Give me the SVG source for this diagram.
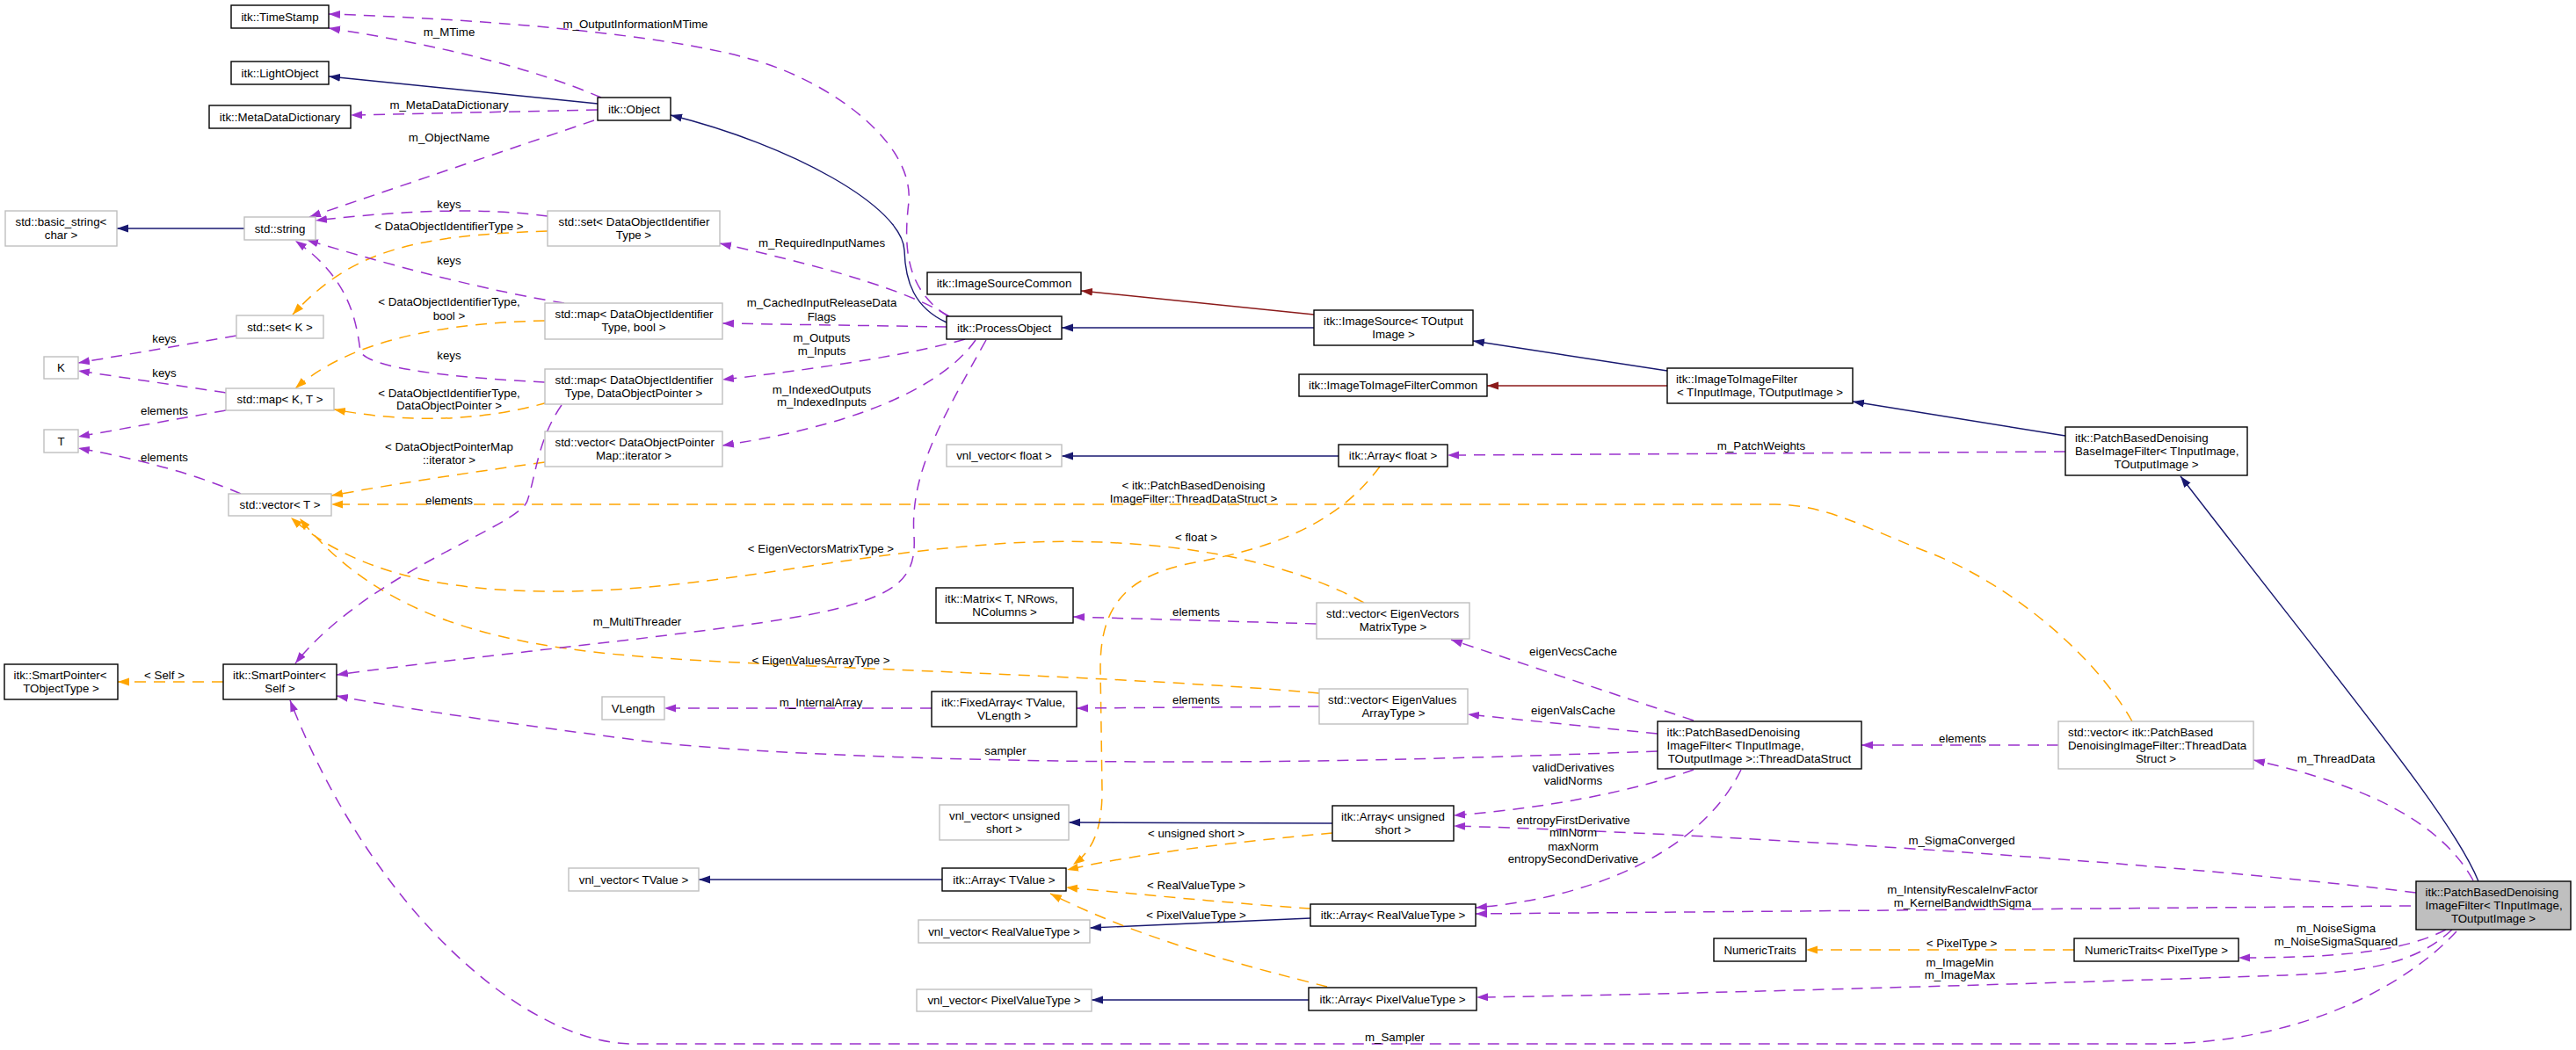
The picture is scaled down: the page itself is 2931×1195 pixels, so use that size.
<svg xmlns="http://www.w3.org/2000/svg" width="2931" height="1195" viewBox="0 0 2931 1195">
<defs>
<style>
text{font-family:"Liberation Sans",Arial,Helvetica,sans-serif;font-size:13.3px;fill:#000}
.c{text-anchor:middle}
.nb rect{fill:#fff;stroke:#000;stroke-width:1.4}
.ng rect{fill:#fff;stroke:#bfbfbf;stroke-width:1.4}
.nm rect{fill:#bfbfbf;stroke:#000;stroke-width:1.4}
#edges path{fill:none}
.p{stroke:#9a32cd;stroke-width:1.5;stroke-dasharray:13,9;marker-end:url(#ap)}
.o{stroke:#ffa500;stroke-width:1.5;stroke-dasharray:13,9;marker-end:url(#ao)}
.b{stroke:#191970;stroke-width:1.4;marker-end:url(#ab)}
.r{stroke:#8b1a1a;stroke-width:1.4;marker-end:url(#ar)}
</style>
<marker id="ap" markerWidth="14" markerHeight="10" refX="13" refY="5" orient="auto" markerUnits="userSpaceOnUse"><path d="M0,0.5 L13,5 L0,9.5 z" fill="#9a32cd" stroke="none"/></marker>
<marker id="ao" markerWidth="14" markerHeight="10" refX="13" refY="5" orient="auto" markerUnits="userSpaceOnUse"><path d="M0,0.5 L13,5 L0,9.5 z" fill="#ffa500" stroke="none"/></marker>
<marker id="ab" markerWidth="14" markerHeight="10" refX="13" refY="5" orient="auto" markerUnits="userSpaceOnUse"><path d="M0,0.5 L13,5 L0,9.5 z" fill="#191970" stroke="none"/></marker>
<marker id="ar" markerWidth="14" markerHeight="10" refX="13" refY="5" orient="auto" markerUnits="userSpaceOnUse"><path d="M0,0.5 L13,5 L0,9.5 z" fill="#8b1a1a" stroke="none"/></marker>
</defs>
<rect width="2931" height="1195" fill="#fff"/>

<g id="edges">
<path class="p" d="M684,111 Q570,62 374,32"/>
<path class="p" d="M1079,360 C1030,330 1028,280 1034,230 C1040,160 940,90 853,67 C760,40 560,22 374,16"/>
<path class="b" d="M680,118 L374,87"/>
<path class="p" d="M680,125 L399,131"/>
<path class="p" d="M676,137 Q520,190 352,247"/>
<path class="b" d="M1077,367 C1040,350 1030,320 1029,285 C1027,235 900,165 763,131"/>
<path class="b" d="M278,260 L133,260"/>
<path class="p" d="M623,246 Q520,232 359,251"/>
<path class="o" d="M623,263 C470,268 400,285 333,358"/>
<path class="p" d="M642,345 Q520,325 349,273"/>
<path class="p" d="M620,435 C520,430 420,420 410,400 C405,360 395,315 336,274"/>
<path class="o" d="M620,365 C480,368 390,395 336,442"/>
<path class="p" d="M269,382 L89,413"/>
<path class="p" d="M257,447 L89,422"/>
<path class="p" d="M257,467 L89,497"/>
<path class="p" d="M274,562 Q200,530 89,510"/>
<path class="o" d="M623,458 Q510,490 380,466"/>
<path class="o" d="M620,526 Q480,545 377,564"/>
<path class="o" d="M2426,821 C2380,740 2280,660 2190,627 C2120,600 2080,575 2020,574 L377,574"/>
<path class="o" d="M1552,686 C1450,630 1300,610 1150,618 C950,630 800,675 620,673 C500,672 400,650 331,589"/>
<path class="o" d="M1501,789 C1300,770 900,760 740,748 C560,735 430,700 341,590"/>
<path class="p" d="M1080,360 C1040,335 960,308 819,277"/>
<path class="p" d="M1077,372 L822,368"/>
<path class="p" d="M1098,386 C1050,400 950,418 822,432"/>
<path class="p" d="M1110,387 C1080,430 1000,480 822,507"/>
<path class="p" d="M1122,387 C1070,480 1035,540 1040,610 C1043,660 1020,680 919,700 C800,722 550,745 383,768"/>
<path class="p" d="M639,461 C612,500 610,540 600,570 C590,600 420,650 336,755"/>
<path class="o" d="M254,776 L134,776"/>
<path class="p" d="M1886,855 C1700,862 1500,868 1300,867 C1100,866 850,858 730,843 C600,826 480,810 383,792"/>
<path class="p" d="M2795,1060 C2740,1120 2620,1188 2450,1188 L720,1188 C600,1188 425,1040 330,797"/>
<path class="b" d="M1495,373 L1208,373"/>
<path class="r" d="M1495,358 L1230,331"/>
<path class="b" d="M1897,422 L1676,388"/>
<path class="r" d="M1897,439 L1692,439"/>
<path class="b" d="M2350,496 L2108,457"/>
<path class="p" d="M2350,514 L1647,518"/>
<path class="b" d="M1523,519 L1208,519"/>
<path class="o" d="M1570,531 C1530,585 1470,620 1360,640 C1280,655 1252,690 1252,760 L1254,900 C1254,950 1240,970 1221,984"/>
<path class="b" d="M2820,1003 C2790,930 2680,800 2481,542"/>
<path class="p" d="M2814,1002 C2780,940 2700,895 2564,865"/>
<path class="p" d="M2342,848 L2118,848"/>
<path class="p" d="M1927,820 L1651,728"/>
<path class="p" d="M1886,835 L1670,813"/>
<path class="p" d="M1498,710 L1221,702"/>
<path class="p" d="M1501,804 L1225,806"/>
<path class="p" d="M1060,806 L756,806"/>
<path class="p" d="M1927,876 C1860,900 1760,920 1654,928"/>
<path class="p" d="M1981,876 C1940,960 1830,1020 1679,1033"/>
<path class="p" d="M2749,1016 C2500,985 2000,950 1654,940"/>
<path class="p" d="M2743,1031 L1679,1040"/>
<path class="p" d="M2783,1058 C2740,1080 2680,1090 2547,1090"/>
<path class="p" d="M2790,1058 C2750,1095 2700,1106 2600,1110 C2300,1120 1900,1132 1680,1135"/>
<path class="o" d="M2360,1081 L2055,1081"/>
<path class="b" d="M1516,937 L1216,936"/>
<path class="o" d="M1516,948 C1420,957 1300,970 1214,990"/>
<path class="o" d="M1491,1034 C1400,1028 1300,1018 1213,1010"/>
<path class="b" d="M1491,1045 L1240,1056"/>
<path class="o" d="M1510,1123 C1420,1100 1300,1070 1195,1017"/>
<path class="b" d="M1489,1138 L1242,1138"/>
<path class="b" d="M1072,1001 L795,1001"/>
<g class="lbl">
<text class="c" x="723" y="32">m_OutputInformationMTime</text>
<text class="c" x="511" y="41">m_MTime</text>
<text class="c" x="511" y="124">m_MetaDataDictionary</text>
<text class="c" x="511" y="161">m_ObjectName</text>
<text class="c" x="511" y="237">keys</text>
<text class="c" x="511" y="262">&lt; DataObjectIdentifierType &gt;</text>
<text class="c" x="511" y="301">keys</text>
<text class="c" x="511" y="348">&lt; DataObjectIdentifierType,</text>
<text class="c" x="511" y="364">bool &gt;</text>
<text class="c" x="187" y="390">keys</text>
<text class="c" x="511" y="409">keys</text>
<text class="c" x="187" y="429">keys</text>
<text class="c" x="511" y="452">&lt; DataObjectIdentifierType,</text>
<text class="c" x="511" y="466">DataObjectPointer &gt;</text>
<text class="c" x="187" y="472">elements</text>
<text class="c" x="511" y="513">&lt; DataObjectPointerMap</text>
<text class="c" x="511" y="528">::iterator &gt;</text>
<text class="c" x="187" y="525">elements</text>
<text class="c" x="511" y="574">elements</text>
<text class="c" x="935" y="281">m_RequiredInputNames</text>
<text class="c" x="935" y="349">m_CachedInputReleaseData</text>
<text class="c" x="935" y="365">Flags</text>
<text class="c" x="935" y="389">m_Outputs</text>
<text class="c" x="935" y="404">m_Inputs</text>
<text class="c" x="935" y="448">m_IndexedOutputs</text>
<text class="c" x="935" y="462">m_IndexedInputs</text>
<text class="c" x="1358" y="557">&lt; itk::PatchBasedDenoising</text>
<text class="c" x="1358" y="572">ImageFilter::ThreadDataStruct &gt;</text>
<text class="c" x="1361" y="616">&lt; float &gt;</text>
<text class="c" x="934" y="629">&lt; EigenVectorsMatrixType &gt;</text>
<text class="c" x="725" y="712">m_MultiThreader</text>
<text class="c" x="1361" y="701">elements</text>
<text class="c" x="934" y="756">&lt; EigenValuesArrayType &gt;</text>
<text class="c" x="187" y="773">&lt; Self &gt;</text>
<text class="c" x="934" y="804">m_InternalArray</text>
<text class="c" x="1361" y="801">elements</text>
<text class="c" x="2004" y="512">m_PatchWeights</text>
<text class="c" x="1790" y="746">eigenVecsCache</text>
<text class="c" x="1790" y="813">eigenValsCache</text>
<text class="c" x="2233" y="845">elements</text>
<text class="c" x="2658" y="868">m_ThreadData</text>
<text class="c" x="1144" y="859">sampler</text>
<text class="c" x="1790" y="878">validDerivatives</text>
<text class="c" x="1790" y="893">validNorms</text>
<text class="c" x="1790" y="938">entropyFirstDerivative</text>
<text class="c" x="1790" y="952">minNorm</text>
<text class="c" x="1790" y="968">maxNorm</text>
<text class="c" x="1790" y="982">entropySecondDerivative</text>
<text class="c" x="1361" y="953">&lt; unsigned short &gt;</text>
<text class="c" x="1361" y="1012">&lt; RealValueType &gt;</text>
<text class="c" x="1361" y="1046">&lt; PixelValueType &gt;</text>
<text class="c" x="2232" y="961">m_SigmaConverged</text>
<text class="c" x="2233" y="1017">m_IntensityRescaleInvFactor</text>
<text class="c" x="2233" y="1032">m_KernelBandwidthSigma</text>
<text class="c" x="2232" y="1078">&lt; PixelType &gt;</text>
<text class="c" x="2658" y="1061">m_NoiseSigma</text>
<text class="c" x="2658" y="1076">m_NoiseSigmaSquared</text>
<text class="c" x="2230" y="1100">m_ImageMin</text>
<text class="c" x="2230" y="1114">m_ImageMax</text>
<text class="c" x="1587" y="1185">m_Sampler</text>
</g>
</g>

<g id="n-timestamp" class="nb"><rect x="263" y="6" width="111" height="26"/><text class="c" x="318.5" y="23.5">itk::TimeStamp</text></g>
<g id="n-lightobject" class="nb"><rect x="263" y="70" width="111" height="26"/><text class="c" x="318.5" y="87.5">itk::LightObject</text></g>
<g id="n-metadatadictionary" class="nb"><rect x="238" y="120" width="161" height="26"/><text class="c" x="318.5" y="137.5">itk::MetaDataDictionary</text></g>
<g id="n-object" class="nb"><rect x="680" y="111" width="83" height="26"/><text class="c" x="721.5" y="128.5">itk::Object</text></g>
<g id="n-basic-string" class="ng"><rect x="6" y="240" width="127" height="40"/><text x="17.5" y="257">std::basic_string&lt;</text><text class="c" x="69.5" y="272">char &gt;</text></g>
<g id="n-string" class="ng"><rect x="278" y="247" width="81" height="26"/><text class="c" x="318.5" y="264.5">std::string</text></g>
<g id="n-set-doit" class="ng"><rect x="623" y="240" width="196" height="40"/><text x="635.5" y="257">std::set&lt; DataObjectIdentifier</text><text class="c" x="721" y="272">Type &gt;</text></g>
<g id="n-set-k" class="ng"><rect x="269" y="359" width="99" height="26"/><text class="c" x="318.5" y="376.5">std::set&lt; K &gt;</text></g>
<g id="n-map-bool" class="ng"><rect x="620" y="345" width="202" height="41"/><text x="631.5" y="362">std::map&lt; DataObjectIdentifier</text><text class="c" x="721" y="377">Type, bool &gt;</text></g>
<g id="n-k" class="ng"><rect x="50" y="406" width="39" height="25"/><text class="c" x="69.5" y="423">K</text></g>
<g id="n-map-kt" class="ng"><rect x="257" y="442" width="123" height="25"/><text class="c" x="318.5" y="459">std::map&lt; K, T &gt;</text></g>
<g id="n-t" class="ng"><rect x="50" y="489" width="39" height="26"/><text class="c" x="69.5" y="506.5">T</text></g>
<g id="n-vector-t" class="ng"><rect x="260" y="562" width="117" height="25"/><text class="c" x="318.5" y="579">std::vector&lt; T &gt;</text></g>
<g id="n-map-dop" class="ng"><rect x="620" y="420" width="202" height="40"/><text x="631.5" y="437">std::map&lt; DataObjectIdentifier</text><text class="c" x="721" y="452">Type, DataObjectPointer &gt;</text></g>
<g id="n-vector-iter" class="ng"><rect x="620" y="491" width="202" height="40"/><text x="631.5" y="508">std::vector&lt; DataObjectPointer</text><text class="c" x="721" y="523">Map::iterator &gt;</text></g>
<g id="n-smartpointer-t" class="nb"><rect x="5" y="756" width="129" height="40"/><text x="15.5" y="773">itk::SmartPointer&lt;</text><text class="c" x="69.5" y="788">TObjectType &gt;</text></g>
<g id="n-smartpointer-self" class="nb"><rect x="254" y="756" width="129" height="40"/><text x="265" y="773">itk::SmartPointer&lt;</text><text class="c" x="318.5" y="788">Self &gt;</text></g>
<g id="n-vlength" class="ng"><rect x="685" y="793" width="71" height="26"/><text class="c" x="720.5" y="810.5">VLength</text></g>
<g id="n-processobject" class="nb"><rect x="1077" y="360" width="131" height="26"/><text class="c" x="1142.5" y="377.5">itk::ProcessObject</text></g>
<g id="n-imagesourcecommon" class="nb"><rect x="1055" y="310" width="175" height="25"/><text class="c" x="1142.5" y="327">itk::ImageSourceCommon</text></g>
<g id="n-imagesource" class="nb"><rect x="1495" y="353" width="181" height="40"/><text x="1506" y="370">itk::ImageSource&lt; TOutput</text><text class="c" x="1585.5" y="385">Image &gt;</text></g>
<g id="n-vnl-float" class="ng"><rect x="1077" y="506" width="131" height="25"/><text class="c" x="1142.5" y="523">vnl_vector&lt; float &gt;</text></g>
<g id="n-matrix" class="nb"><rect x="1065" y="669" width="156" height="40"/><text x="1075" y="686">itk::Matrix&lt; T, NRows,</text><text class="c" x="1143" y="701">NColumns &gt;</text></g>
<g id="n-fixedarray" class="nb"><rect x="1060" y="787" width="165" height="40"/><text x="1071" y="804">itk::FixedArray&lt; TValue,</text><text class="c" x="1142.5" y="819">VLength &gt;</text></g>
<g id="n-i2icommon" class="nb"><rect x="1478" y="426" width="214" height="25"/><text class="c" x="1585" y="443">itk::ImageToImageFilterCommon</text></g>
<g id="n-i2ifilter" class="nb"><rect x="1897" y="419" width="211" height="40"/><text x="1907" y="436">itk::ImageToImageFilter</text><text class="c" x="2002.5" y="451">&lt; TInputImage, TOutputImage &gt;</text></g>
<g id="n-array-float" class="nb"><rect x="1523" y="506" width="124" height="25"/><text class="c" x="1585" y="523">itk::Array&lt; float &gt;</text></g>
<g id="n-vector-eigvec" class="ng"><rect x="1498" y="686" width="174" height="41"/><text x="1509" y="703">std::vector&lt; EigenVectors</text><text class="c" x="1585" y="718">MatrixType &gt;</text></g>
<g id="n-vector-eigval" class="ng"><rect x="1501" y="784" width="169" height="40"/><text x="1511" y="801">std::vector&lt; EigenValues</text><text class="c" x="1585.5" y="816">ArrayType &gt;</text></g>
<g id="n-basefilter" class="nb"><rect x="2350" y="486" width="207" height="55"/><text x="2361" y="503">itk::PatchBasedDenoising</text><text x="2361" y="518">BaseImageFilter&lt; TInputImage,</text><text class="c" x="2453.5" y="533">TOutputImage &gt;</text></g>
<g id="n-threaddatastruct" class="nb"><rect x="1886" y="821" width="232" height="54"/><text x="1896.5" y="838">itk::PatchBasedDenoising</text><text x="1896.5" y="853">ImageFilter&lt; TInputImage,</text><text class="c" x="2002" y="868"> TOutputImage &gt;::ThreadDataStruct</text></g>
<g id="n-array-ushort" class="nb"><rect x="1516" y="917" width="138" height="40"/><text x="1526" y="934">itk::Array&lt; unsigned</text><text class="c" x="1585" y="949">short &gt;</text></g>
<g id="n-array-real" class="nb"><rect x="1491" y="1029" width="188" height="25"/><text class="c" x="1585" y="1046">itk::Array&lt; RealValueType &gt;</text></g>
<g id="n-numerictraits" class="nb"><rect x="1950" y="1068" width="105" height="26"/><text class="c" x="2002.5" y="1085.5">NumericTraits</text></g>
<g id="n-array-pixel" class="nb"><rect x="1489" y="1124" width="191" height="26"/><text class="c" x="1584.5" y="1141.5">itk::Array&lt; PixelValueType &gt;</text></g>
<g id="n-vnl-ushort" class="ng"><rect x="1069" y="916" width="147" height="40"/><text x="1080" y="933">vnl_vector&lt; unsigned</text><text class="c" x="1142.5" y="948">short &gt;</text></g>
<g id="n-array-tvalue" class="nb"><rect x="1072" y="988" width="141" height="26"/><text class="c" x="1142.5" y="1005.5">itk::Array&lt; TValue &gt;</text></g>
<g id="n-vnl-tvalue" class="ng"><rect x="647" y="988" width="148" height="26"/><text class="c" x="721" y="1005.5">vnl_vector&lt; TValue &gt;</text></g>
<g id="n-vnl-real" class="ng"><rect x="1045" y="1047" width="195" height="26"/><text class="c" x="1142.5" y="1064.5">vnl_vector&lt; RealValueType &gt;</text></g>
<g id="n-vnl-pixel" class="ng"><rect x="1043" y="1126" width="199" height="25"/><text class="c" x="1142.5" y="1143">vnl_vector&lt; PixelValueType &gt;</text></g>
<g id="n-vector-threaddata" class="ng"><rect x="2342" y="821" width="222" height="54"/><text x="2353" y="838">std::vector&lt; itk::PatchBased</text><text x="2353" y="853">DenoisingImageFilter::ThreadData</text><text class="c" x="2453" y="868">Struct &gt;</text></g>
<g id="n-main" class="nm"><rect x="2749" y="1003" width="176" height="55"/><text x="2759.5" y="1020">itk::PatchBasedDenoising</text><text x="2759.5" y="1035">ImageFilter&lt; TInputImage,</text><text class="c" x="2837" y="1050">TOutputImage &gt;</text></g>
<g id="n-numerictraits-pixel" class="nb"><rect x="2360" y="1068" width="187" height="26"/><text class="c" x="2453.5" y="1085.5">NumericTraits&lt; PixelType &gt;</text></g>
</svg>
